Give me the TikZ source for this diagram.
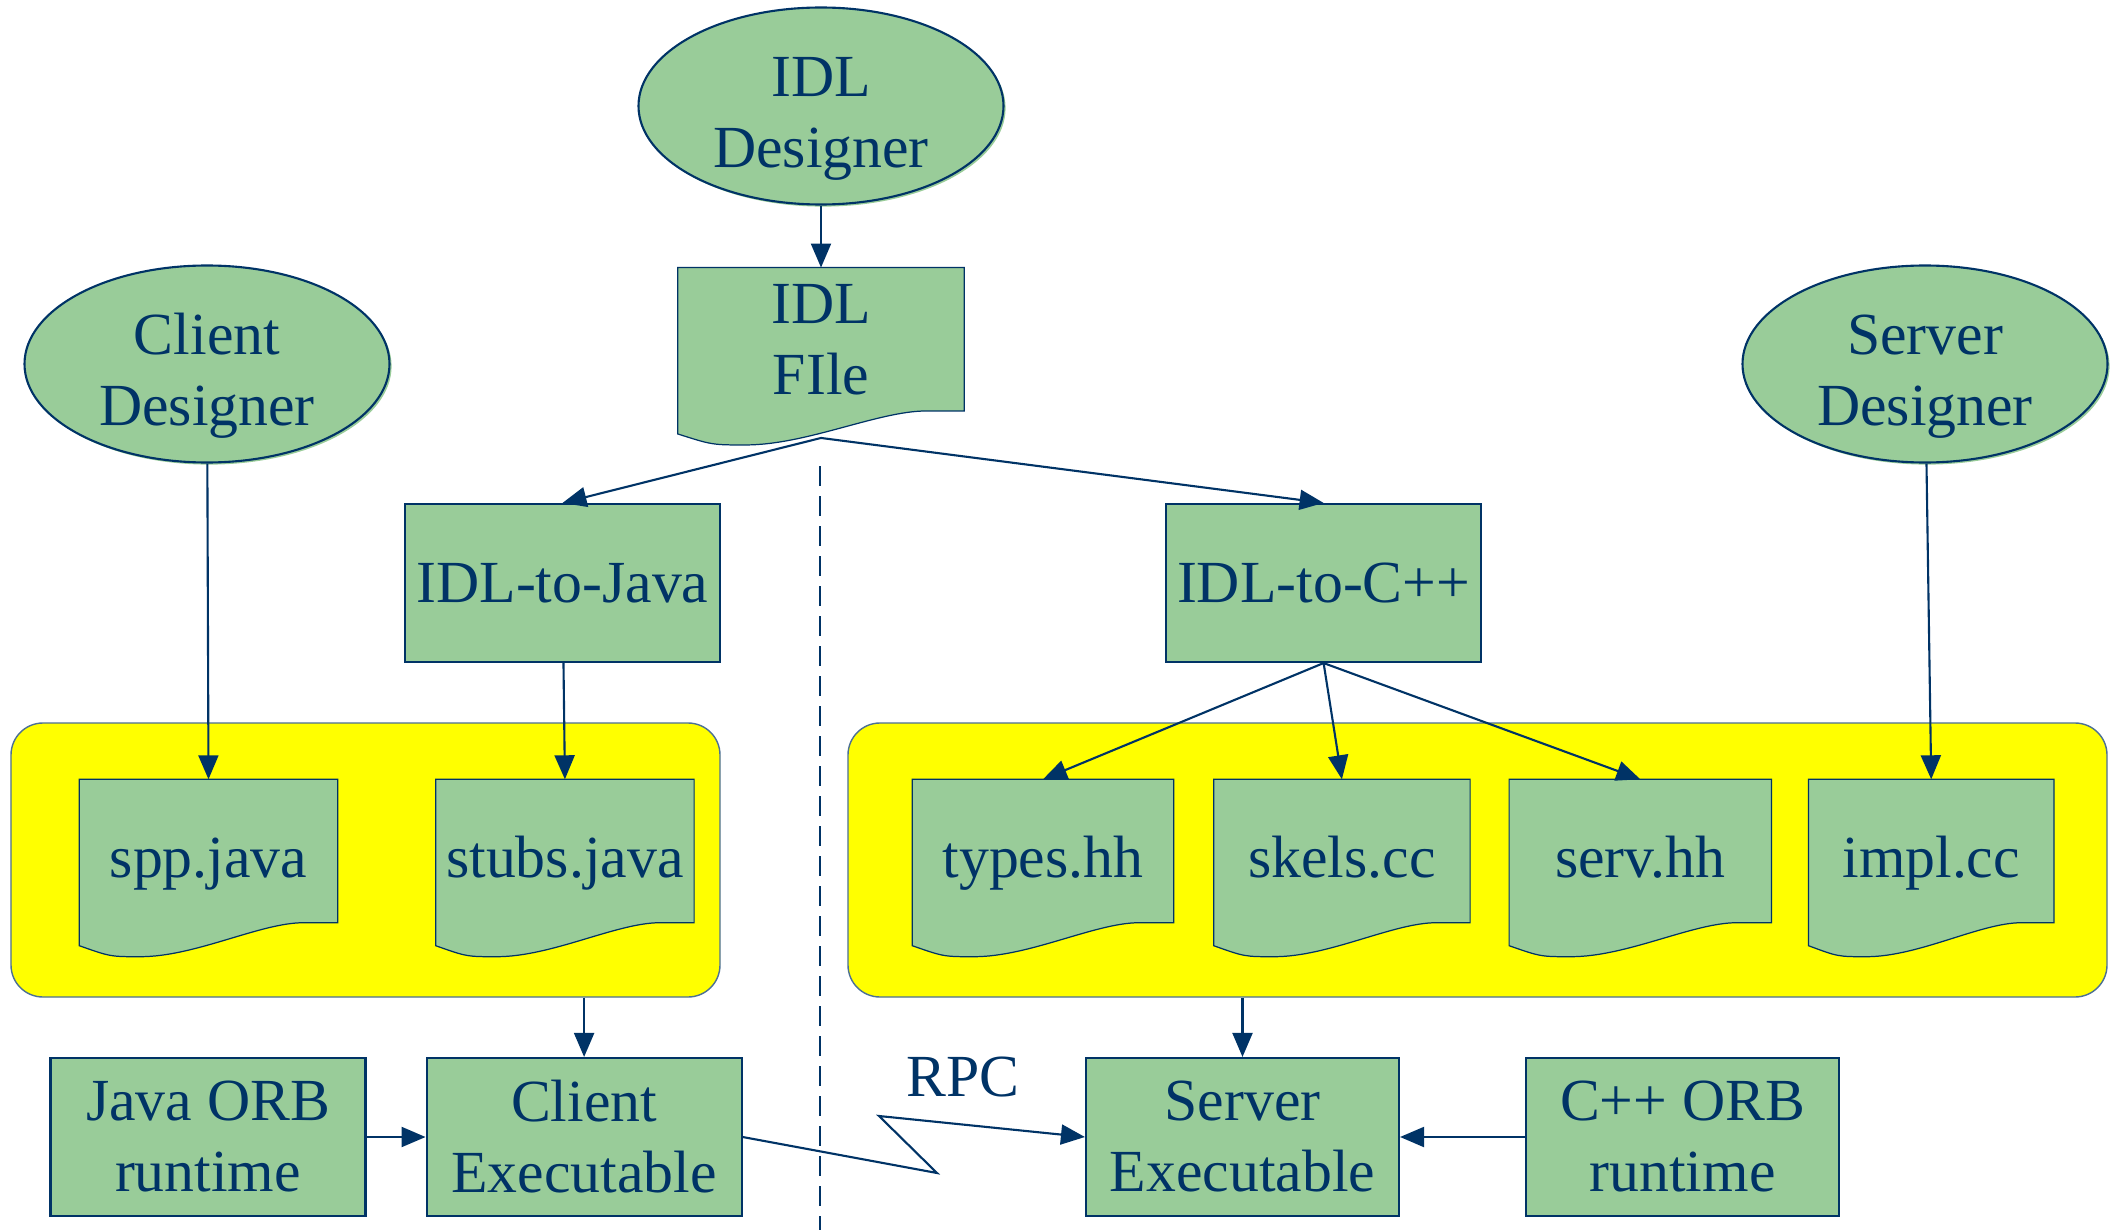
\documentclass[tikz,border=0pt]{standalone}
\usepackage{fontspec}
\setmainfont{Liberation Serif}
\usetikzlibrary{calc,arrows.meta,positioning,shapes.geometric,shadows}
\definecolor{ink}{HTML}{003366}
\definecolor{leaf}{HTML}{99CC99}
\definecolor{hilite}{HTML}{FFFF00}
\pgfdeclarelayer{bg}
\pgfdeclarelayer{docs}
\pgfsetlayers{bg,docs,main}
\tikzset{
  block/.style={draw=ink, line width=0.6pt, fill=leaf, text=ink, align=center,
    minimum width=3.15cm, minimum height=1.58cm, inner sep=2pt},
  actor/.style={ellipse, draw=ink, line width=0.6pt, fill=leaf, text=ink, align=center,
    minimum width=3.65cm, minimum height=1.97cm, inner sep=0pt, text height=35pt, text depth=0pt,
    drop shadow={shadow xshift=0.6pt, shadow yshift=-0.6pt, fill=leaf, opacity=1}},
  docfile/.style={text=ink, align=center, minimum height=1.42cm, inner sep=0pt},
  onedoc/.style={docfile, text height=15pt, text depth=0pt},
  docline/.style={draw=ink, line width=0.35pt, fill=leaf},
  groupbox/.style={draw=ink!70, line width=0.4pt, fill=hilite, rounded corners=0.32cm,
    minimum height=2.74cm},
  arr/.style={-{Triangle[length=0.24cm,width=0.2cm]}, draw=ink, line width=0.6pt},
  divider/.style={draw=ink, line width=0.6pt, dash pattern=on 0.2cm off 0.1cm}
}
\newcommand{\docoutline}[1]{%
  \begin{pgfonlayer}{docs}
    \filldraw[docline] (#1.north west) -- (#1.north east) -- (#1.south east)
      -- ($(#1.south west)!0.868!(#1.south east)$)
      .. controls ($(#1.south west)!0.70!(#1.south east)$)
      and ($(#1.south west)!0.45!(#1.south east)+(0,-0.34cm)$)
      .. ($(#1.south west)!0.236!(#1.south east)+(0,-0.34cm)$)
      .. controls ($(#1.south west)!0.12!(#1.south east)+(0,-0.34cm)$)
      .. ($(#1.south west)+(0,-0.23cm)$) -- cycle;
  \end{pgfonlayer}}

\begin{document}
\begin{tikzpicture}[font=\fontsize{17}{20.2}\selectfont]
  \useasboundingbox (0,0) rectangle (21.18,-12.30);
  \node[actor] (idldes) at (8.21,-1.06) {IDL\\Designer};
  \node[docfile, minimum width=2.85cm, below=0.62cm of idldes] (idlfile) {IDL\\FIle};
  \node[actor] (cdes) at (2.07,-3.64) {Client\\Designer};
  \node[actor] (sdes) at (19.25,-3.64) {Server\\Designer};
  \node[block] (i2j) at (5.625,-5.83) {IDL-to-Java};
  \node[block, right=4.44cm of i2j] (i2c) {IDL-to-C++};

  \node[onedoc, minimum width=2.57cm] (spp) at (2.085,-8.51) {spp.java};
  \node[onedoc, minimum width=2.57cm, right=0.98cm of spp] (stubs) {stubs.java};
  \node[onedoc, minimum width=2.60cm] (types) at (10.43,-8.51) {types.hh};
  \node[onedoc, minimum width=2.55cm, right=0.40cm of types] (skels) {skels.cc};
  \node[onedoc, minimum width=2.61cm, right=0.39cm of skels] (serv) {serv.hh};
  \node[onedoc, minimum width=2.44cm, right=0.37cm of serv] (impl) {impl.cc};
  \foreach \d in {idlfile,spp,stubs,types,skels,serv,impl} {\docoutline{\d}}

  \begin{pgfonlayer}{bg}
    \node[groupbox, minimum width=7.09cm] (jbox) at (3.655,-8.60) {};
    \node[groupbox, minimum width=12.59cm] (cbox) at (14.775,-8.60) {};
  \end{pgfonlayer}

  \node[block] (jorb) at (2.08,-11.37) {Java ORB\\runtime};
  \node[block, right=0.59cm of jorb] (cexe) {Client\\Executable};
  \node[block, minimum width=3.13cm] (sexe) at (12.425,-11.37) {Server\\Executable};
  \node[block, minimum width=3.13cm, right=1.25cm of sexe] (corb) {C++ ORB\\runtime};
  \node[text=ink] (rpc) at (9.63,-10.77) {RPC};

  \coordinate (divtop) at (8.20,-4.66);
  \coordinate (divbot) at (8.20,-12.30);
  \draw[divider] (divtop) -- (divbot);

  \draw[arr] (idldes) -- (idlfile);
  \coordinate (fileout) at ($(idlfile.south)+(0,-0.27cm)$);
  \draw[arr] (fileout) -- (i2j.north);
  \draw[arr] (fileout) -- (i2c.north);
  \draw[arr] (cdes) -- (spp.north);
  \draw[arr] (i2j) -- (stubs.north);
  \draw[arr] (i2c.south) -- (types.north);
  \draw[arr] (i2c.south) -- (skels.north);
  \draw[arr] (i2c.south) -- (serv.north);
  \draw[arr] (sdes) -- (impl.north);
  \draw[arr] (cexe.north |- jbox.south) -- (cexe);
  \draw[arr] (sexe.north |- cbox.south) -- (sexe);
  \draw[arr] (jorb) -- (cexe);
  \draw[arr] (corb) -- (sexe);
  \coordinate (zz1) at (9.37,-11.73);
  \coordinate (zz2) at (8.79,-11.16);
  \draw[arr] (cexe.east) -- (zz1) -- (zz2) -- (sexe.west);
\end{tikzpicture}
\end{document}
